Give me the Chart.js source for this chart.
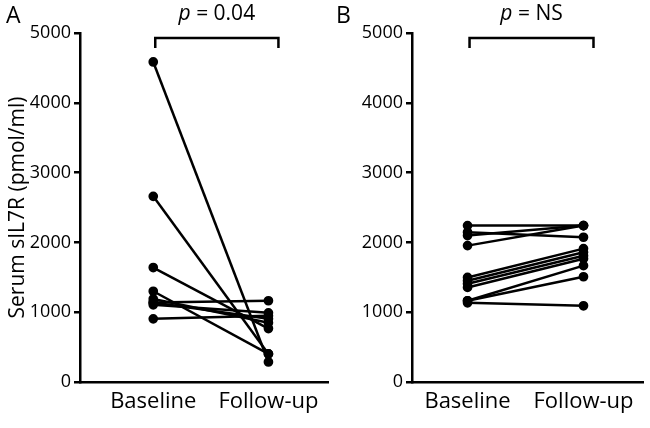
<!DOCTYPE html>
<html>
<head>
<meta charset="utf-8">
<script src="https://cdn.jsdelivr.net/npm/chart.js@4.4.1/dist/chart.umd.min.js"></script>
<style>
  body { margin: 0; background: #fff; }
  #wrap { position: relative; width: 650px; height: 428px; overflow: hidden; }
  canvas { position: absolute; top: 0; }
</style>
</head>
<body>
<div id="wrap">
  <canvas id="panelA" width="335" height="428" style="left:0"></canvas>
  <canvas id="panelB" width="320" height="428" style="left:330px"></canvas>
</div>
<script>
//x categories
const timeLabels = ["Baseline", "Follow-up"];
//y ticks
const yTicks = [0, 1000, 2000, 3000, 4000, 5000];
//panel A, one entry per patient
const baselineA = [4585, 2660, 1640, 1300, 1190, 1140, 1140, 1105, 905];
const followA   = [287, 402, 766, 402, 848, 1164, 905, 991, 948];
//panel B
const baselineB = [2241, 2145, 2098, 1954, 1498, 1451, 1408, 1355, 1164, 1164, 1135];
const followB   = [2241, 2074, 2241, 2241, 1911, 1858, 1810, 1767, 1667, 1508, 1092];
//p values
const pText = ["0.04", "NS"];
const panelNames = ["A", "B"];

const FONT = "'Open Sans', sans-serif";

//bracket + p value + panel letter
const extras = {
  id: "extras",
  afterDraw(c, args, opts) {
    const ctx = c.ctx;
    const xs = c.scales.x;
    const x1 = xs.getPixelForValue(1) + 2;
    const x2 = xs.getPixelForValue(2) + 10;
    ctx.save();
    ctx.strokeStyle = "#000";
    ctx.lineWidth = 2.5;
    ctx.beginPath();
    ctx.moveTo(x1, 48);
    ctx.lineTo(x1, 38);
    ctx.lineTo(x2, 38);
    ctx.lineTo(x2, 48);
    ctx.stroke();
    //p = ...
    ctx.fillStyle = "#000";
    ctx.textBaseline = "middle";
    ctx.font = "italic 21px " + FONT;
    const pw = ctx.measureText("p").width;
    ctx.font = "21px " + FONT;
    const rest = " = " + opts.p;
    const rw = ctx.measureText(rest).width;
    let sx = (x1 + x2) / 2 - (pw + rw) / 2;
    ctx.font = "italic 21px " + FONT;
    ctx.textAlign = "left";
    ctx.fillText("p", sx, 14);
    ctx.font = "21px " + FONT;
    ctx.fillText(rest, sx + pw, 14);
    //panel letter
    ctx.font = "23px " + FONT;
    ctx.fillText(opts.letter, opts.letterX, 16);
    ctx.restore();
  }
};

function makePanel(id, base, follow, cfg) {
  const sets = base.map((b, i) => ({
    data: [{ x: 1, y: b }, { x: 2, y: follow[i] }],
    borderColor: "#000",
    backgroundColor: "#000",
    borderWidth: 2.5,
    pointRadius: 3.6,
    pointHoverRadius: 3.6,
    tension: 0,
    clip: false
  }));
  return new Chart(document.getElementById(id), {
    type: "line",
    data: { datasets: sets },
    options: {
      responsive: false,
      animation: false,
      layout: { padding: { top: 33, right: 0, left: 0, bottom: 0 } },
      plugins: {
        legend: { display: false },
        tooltip: { enabled: false },
        extras: { p: cfg.p, letter: cfg.letter, letterX: cfg.letterX }
      },
      scales: {
        x: {
          type: "linear",
          min: cfg.xmin,
          max: cfg.xmax,
          afterBuildTicks: s => { s.ticks = [{ value: 1 }, { value: 2 }]; },
          afterFit: s => { s.height = 46; },
          ticks: {
            color: "#000",
            font: { family: FONT, size: 22 },
            padding: 7,
            maxRotation: 0,
            autoSkip: false,
            callback: v => timeLabels[v - 1]
          },
          grid: { display: false, drawTicks: false },
          border: { display: true, color: "#000", width: 2.5 }
        },
        y: {
          min: 0,
          max: 5000,
          afterBuildTicks: s => { s.ticks = yTicks.map(v => ({ value: v })); },
          afterFit: s => { s.width = cfg.yWidth; },
          ticks: {
            color: "#000",
            font: { family: FONT, size: 18 },
            padding: 3,
            callback: v => String(v)
          },
          grid: { drawOnChartArea: false, drawTicks: true, tickLength: 6, color: "#000", lineWidth: 2.5 },
          border: { display: true, color: "#000", width: 2.5 },
          title: cfg.title ? {
            display: true,
            text: "Serum sIL7R (pmol/ml)",
            color: "#000",
            font: { family: FONT, size: 21 },
            padding: { top: 5, bottom: 0 }
          } : { display: false }
        }
      }
    },
    plugins: [extras]
  });
}

makePanel("panelA", baselineA, followA, {
  p: pText[0], letter: panelNames[0], letterX: 6,
  xmin: 0.364, xmax: 2.525, yWidth: 80, title: true
});
makePanel("panelB", baselineB, followB, {
  p: pText[1], letter: panelNames[1], letterX: 6,
  xmin: 0.521, xmax: 2.521, yWidth: 82, title: false
});
</script>
</body>
</html>
